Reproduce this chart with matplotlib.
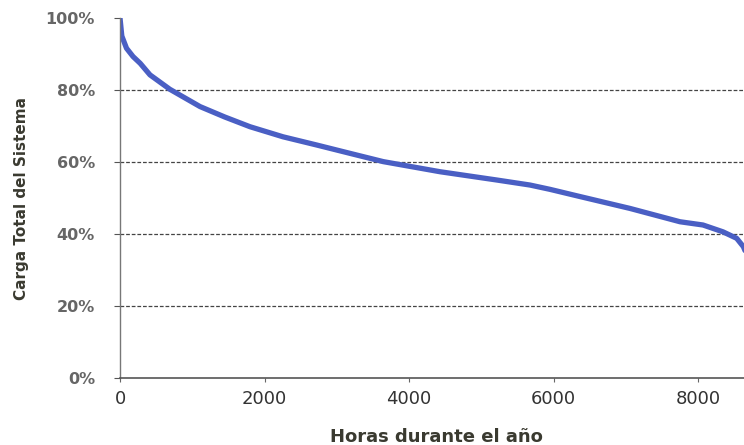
import matplotlib

matplotlib.use("Agg")
import matplotlib.pyplot as plt
from matplotlib.ticker import FuncFormatter

# load duration curve
hours = [0, 25, 90, 180, 280, 415, 690, 1107, 1450, 1799, 2256, 2726, 3183,
         3644, 4428, 5213, 5674, 5951, 6366, 7058, 7750, 8068, 8345, 8534, 8626,
         8700, 8760]
load_pct = [100, 95, 91.6, 89.3, 87.4, 84.2, 80.2, 75.4, 72.5, 69.8, 67.0, 64.7,
            62.4, 60.1, 57.3, 55.0, 53.6, 52.4, 50.4, 47.1, 43.4, 42.5, 40.6,
            38.8, 36.5, 33, 28]
x_ticks = [0, 2000, 4000, 6000, 8000]
y_ticks = [0, 20, 40, 60, 80, 100]

fig = plt.figure(figsize=(7.44, 4.45), dpi=100)
ax = fig.add_axes([120 / 744, 67 / 445, 633 / 744, 360 / 445])

ax.plot(hours, load_pct, color="#4a5fc4", linewidth=3.8,
        solid_capstyle="round", solid_joinstyle="round")

ax.set_xlim(0, 8760)
ax.set_ylim(0, 100)
ax.set_xticks(x_ticks)
ax.set_yticks(y_ticks)
ax.yaxis.set_major_formatter(FuncFormatter(lambda v, _: f"{v:.0f}%"))

for y in y_ticks[1:-1]:
    ax.axhline(y, color="#444444", linewidth=0.9, linestyle=(0, (3, 1.5)), zorder=0)

for side in ("top", "right"):
    ax.spines[side].set_visible(False)
ax.spines["left"].set_color("#777777")
ax.spines["left"].set_linestyle((0, (2, 1)))
ax.spines["left"].set_linewidth(1.0)
ax.spines["bottom"].set_color("#555555")
ax.spines["bottom"].set_linewidth(1.2)

ax.tick_params(axis="x", length=3, color="#666666", labelsize=13, labelcolor="#333333", pad=6)
ax.tick_params(axis="y", length=4, color="#555555", labelsize=11.5, labelcolor="#666666", pad=14)
for lbl in ax.get_yticklabels():
    lbl.set_fontweight("bold")

ax.set_xlabel("Horas durante el año", fontsize=13, fontweight="bold", color="#3a3a30", labelpad=14)
ax.set_ylabel("Carga Total del Sistema", fontsize=11, fontweight="bold", color="#3a3a30", labelpad=12)

fig.savefig("out.png", dpi=100)
plt.close(fig)
